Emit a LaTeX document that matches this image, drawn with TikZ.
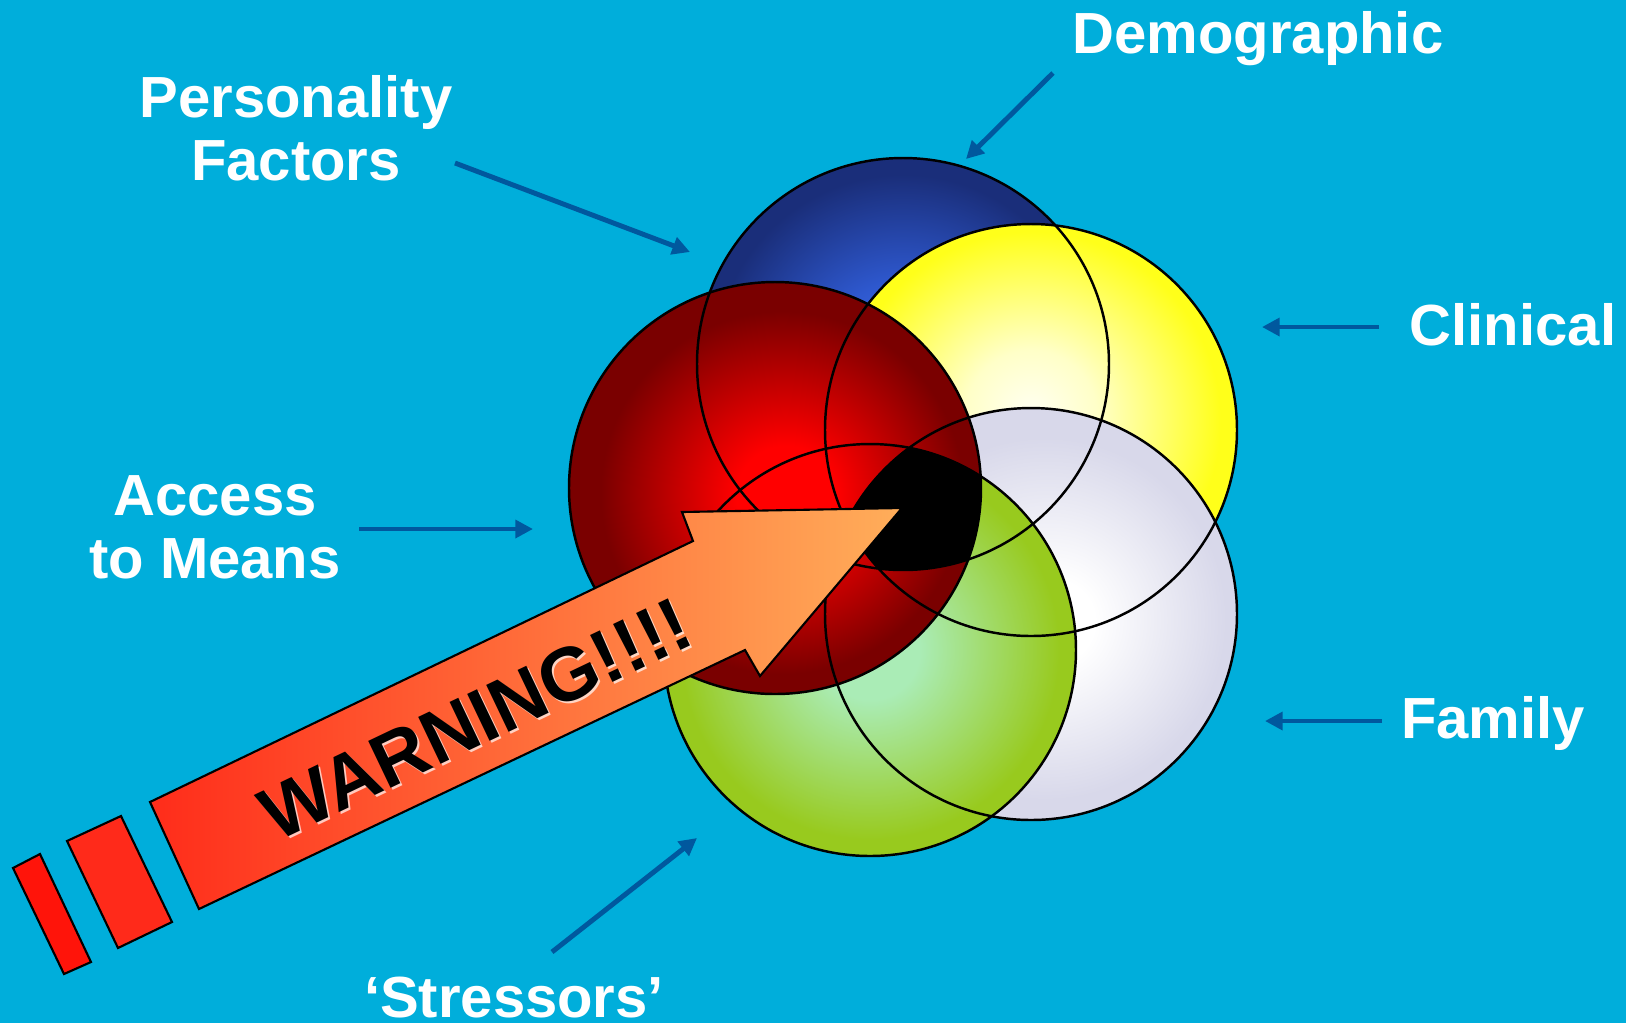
\documentclass[tikz,border=0pt]{standalone}
\usepackage{fontspec}
\setmainfont{Liberation Sans}
\usetikzlibrary{arrows.meta}

\definecolor{sky}{RGB}{0,174,219}
\definecolor{ptrblue}{RGB}{0,88,158}
\definecolor{demoA}{RGB}{70,118,250}
\definecolor{demoB}{RGB}{46,88,206}
\definecolor{demoC}{RGB}{26,46,122}
\definecolor{clinA}{RGB}{255,255,242}
\definecolor{clinB}{RGB}{255,255,200}
\definecolor{clinC}{RGB}{255,255,26}
\definecolor{famA}{RGB}{255,255,255}
\definecolor{famC}{RGB}{216,216,234}
\definecolor{stresA}{RGB}{170,236,182}
\definecolor{stresC}{RGB}{152,202,30}
\definecolor{accA}{RGB}{255,0,0}
\definecolor{accC}{RGB}{122,0,0}
\definecolor{warnA}{RGB}{255,44,26}
\definecolor{warnB}{RGB}{255,174,90}
\definecolor{barA}{RGB}{255,20,10}
\definecolor{barB}{RGB}{255,42,26}

% shadings of the five factors (25bp is the rim)
\pgfdeclareradialshading{demoshade}{\pgfpoint{0bp}{0bp}}{color(0bp)=(demoA); color(10bp)=(demoB); color(23bp)=(demoC); color(50bp)=(demoC)}
\pgfdeclareradialshading{clinshade}{\pgfpoint{0bp}{2bp}}{color(0bp)=(clinA); color(8bp)=(clinB); color(23bp)=(clinC); color(50bp)=(clinC)}
\pgfdeclareradialshading{famshade}{\pgfpoint{3bp}{-1bp}}{color(0bp)=(famA); color(5bp)=(famA); color(22bp)=(famC); color(50bp)=(famC)}
\pgfdeclareradialshading{stresshade}{\pgfpoint{0bp}{0bp}}{color(0bp)=(stresA); color(6bp)=(stresA); color(23bp)=(stresC); color(50bp)=(stresC)}
\pgfdeclareradialshading{accshade}{\pgfpoint{1.5bp}{-1bp}}{color(0bp)=(accA); color(6bp)=(accA); color(22bp)=(accC); color(50bp)=(accC)}

\tikzset{
  ring/.style={draw=black, line width=0.7pt},
  lbl/.style={text=white, align=center, inner sep=0pt, font=\fontsize{16.5}{18}\selectfont\bfseries},
  ptr/.style={ptrblue, line width=1.4pt, -{Triangle[length=5pt,width=5pt]}},
  block/.style={draw=black, line width=0.6pt},
  warnfont/.style={rotate=25.5, inner sep=0pt, font=\fontsize{21.5}{23}\selectfont\bfseries}
}

\begin{document}
\begin{tikzpicture}[x=0.01cm, y=-0.01cm]
\useasboundingbox (0,0) rectangle (1626,1023);
\fill [sky] (0,0) rectangle (1626,1023);

\coordinate (cdemo) at (903,364);
\coordinate (cclin) at (1031,430);
\coordinate (cfam) at (1031,614);
\coordinate (cstress) at (870,650);
\coordinate (cacc) at (775,488);

% circles, back to front
\foreach \c/\s in {cdemo/demoshade, cclin/clinshade, cfam/famshade, cstress/stresshade, cacc/accshade}{
  \path [shading=\s] (\c) circle [radius=206];
}
% where all five meet
\begin{scope}
  \clip (cdemo) circle [radius=206];
  \clip (cclin) circle [radius=206];
  \clip (cfam) circle [radius=206];
  \clip (cstress) circle [radius=206];
  \fill [black] (cacc) circle [radius=206];
\end{scope}
\foreach \c in {cdemo,cclin,cfam,cstress,cacc}{
  \draw [ring] (\c) circle [radius=206];
}

% labels
\node [lbl, anchor=base] (demo) at (1258,53) {Demographic};
\node [lbl] (pers) at (296,128) {Personality\\Factors};
\node [lbl, anchor=base] (clin) at (1513,345) {Clinical};
\node [lbl] (acc) at (215,527) {Access\\to Means};
\node [lbl, anchor=base] (fam) at (1493,738) {Family};
\node [lbl, anchor=base] (stress) at (514,1017) {‘Stressors’};

\coordinate (demofrom) at (1053,73);   \coordinate (demoto) at (966,159);
\coordinate (persfrom) at (455,163);   \coordinate (persto) at (690,252);
\coordinate (clinfrom) at (1379,327);  \coordinate (clinto) at (1262,327);
\coordinate (accfrom) at (359,529);    \coordinate (accto) at (533,529);
\coordinate (famfrom) at (1382,721);   \coordinate (famto) at (1265,721);
\coordinate (stressfrom) at (552,952); \coordinate (stressto) at (697,838);
\foreach \a in {demo,pers,clin,acc,fam,stress}{
  \draw [ptr] (\a from) -- (\a to);
}

% the warning arrow
\draw [block, fill=barA] (13,868) -- (40,854) -- (91,962) -- (64,974) -- cycle;
\draw [block, fill=barB] (67,841) -- (121,816) -- (172,922) -- (118,948) -- cycle;
\draw [block, left color=warnA, right color=warnB]
  (150,802) -- (693,541) -- (682,512) -- (902,508) -- (760,676) -- (745,650) -- (199,909) -- cycle;
\node [warnfont, text=white, opacity=0.7] (warnglow) at (478,721) {WARNING!!!!};
\node [warnfont, text=black] (warn) at (476,719) {WARNING!!!!};
\end{tikzpicture}
\end{document}
